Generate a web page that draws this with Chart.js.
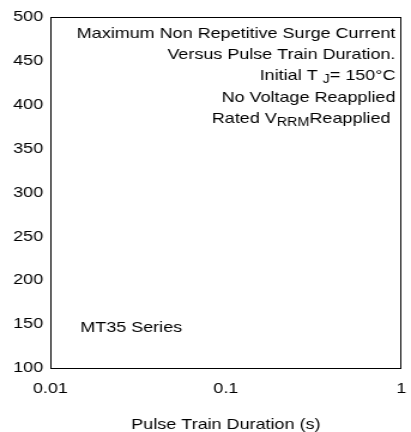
<!DOCTYPE html>
<html>
<head>
<meta charset="utf-8">
<script src="https://cdn.jsdelivr.net/npm/chart.js@4/dist/chart.umd.min.js"></script>
<style>
  html, body { margin: 0; padding: 0; background: #fff; overflow: hidden; }
  #c { display: block; width: 411px !important; height: 432px !important; }
</style>
</head>
<body>
<canvas id="c" width="343" height="432"></canvas>
<script>
// ---- data ----
const xTicks = [0.01, 0.1, 1];
const xTickLabels = ["0.01", "0.1", "1"];
const yTicks = [100, 150, 200, 250, 300, 350, 400, 450, 500];
const seriesNames = ["MT35 Series"];
const seriesValues = [];           // no curve is drawn in the reference
const xTitle = "Pulse Train Duration (s)";
const noteLines = [
  [["Maximum Non Repetitive Surge Current", false]],
  [["Versus Pulse Train Duration.", false]],
  [["Initial T ", false], ["J", true], ["= 150°C", false]],
  [["No Voltage Reapplied", false]],
  [["Rated V", false], ["RRM", true], ["Reapplied ", false]]
];

const FONT = '"Liberation Sans", Arial, sans-serif';

const framePlugin = {
  id: 'frame',
  afterDraw(chart) {
    const { ctx, chartArea: a } = chart;
    ctx.save();
    ctx.strokeStyle = '#000';
    ctx.lineWidth = 1;
    ctx.strokeRect(Math.round(a.left) + 0.5, Math.round(a.top) + 0.5,
                   Math.round(a.right - a.left) - 1, Math.round(a.bottom - a.top));
    // notes (top right)
    const rightX = a.right - 5;
    let y = a.top + 16.5;
    ctx.fillStyle = '#000';
    ctx.textBaseline = 'middle';
    ctx.textAlign = 'left';
    for (const line of noteLines) {
      let w = 0;
      for (const [t, sub] of line) {
        ctx.font = (sub ? '12px ' : '15px ') + FONT;
        w += ctx.measureText(t).width;
      }
      let x = rightX - w;
      for (const [t, sub] of line) {
        ctx.font = (sub ? '12px ' : '15px ') + FONT;
        ctx.fillText(t, x, y + (sub ? 4 : 0));
        x += ctx.measureText(t).width;
      }
      y += 21.3;
    }
    // series name (bottom left)
    ctx.font = '15px ' + FONT;
    ctx.fillText(seriesNames[0], a.left + 25, chart.scales.y.getPixelForValue(150) + 4);
    ctx.restore();
  }
};

new Chart(document.getElementById('c'), {
  type: 'line',
  data: {
    datasets: [{
      label: seriesNames[0],
      data: seriesValues,
      borderColor: '#000',
      borderWidth: 1,
      pointRadius: 0
    }]
  },
  options: {
    responsive: false,
    animation: false,
    devicePixelRatio: 1,
    layout: { padding: { left: 11, top: 17, right: 8, bottom: 0 } },
    plugins: { legend: { display: false }, tooltip: { enabled: false } },
    scales: {
      x: {
        type: 'logarithmic',
        min: 0.01, max: 1,
        grid: { display: false, drawTicks: false },
        border: { display: false },
        afterBuildTicks(s) { s.ticks = xTicks.map(v => ({ value: v })); },
        afterFit(s) { s.height = 64; s.paddingRight = 6; s.paddingLeft = 6; },
        ticks: {
          color: '#000',
          font: { family: FONT, size: 15 },
          padding: 12,
          maxRotation: 0,
          autoSkip: false,
          callback(v) { const i = xTicks.indexOf(v); return i >= 0 ? xTickLabels[i] : ''; }
        },
        title: {
          display: true, text: xTitle, color: '#000',
          font: { family: FONT, size: 15, lineHeight: 1 },
          padding: { top: 19, bottom: 0 }
        }
      },
      y: {
        type: 'linear',
        min: 100, max: 500,
        grid: { display: false, drawTicks: false },
        border: { display: false },
        afterBuildTicks(s) { s.ticks = yTicks.map(v => ({ value: v })); },
        afterFit(s) { s.width = 31; },
        ticks: {
          color: '#000',
          font: { family: FONT, size: 15 },
          padding: 6,
          autoSkip: false
        }
      }
    }
  },
  plugins: [framePlugin]
});
</script>
</body>
</html>
